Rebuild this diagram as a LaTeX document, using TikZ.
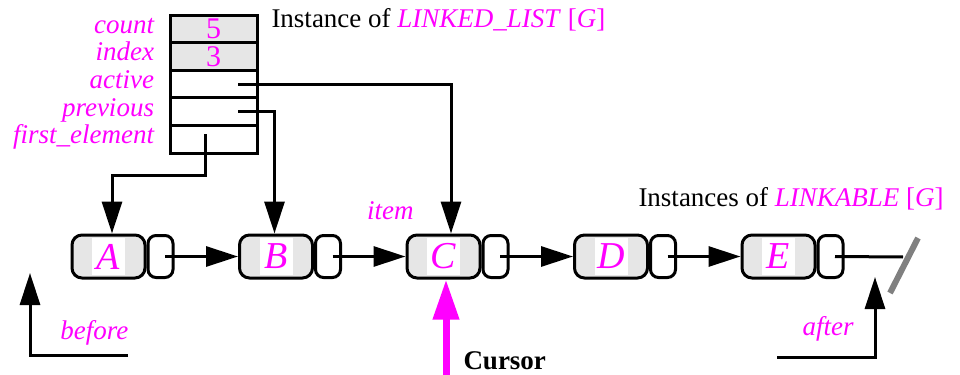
\documentclass[tikz,border=0pt]{standalone}
\usepackage{fontspec}
\setmainfont{Liberation Serif}
\newfontfamily\timesfont{Liberation Serif}
\usetikzlibrary{arrows.meta, calc}
\definecolor{fucsia}{HTML}{FF00FF}
\definecolor{grisclaro}{HTML}{E6E6E6}
\definecolor{gris}{HTML}{808080}

\begin{document}
\begin{tikzpicture}[
  x=0.5pt, y=-0.5pt,
  font=\timesfont\fontsize{13.5}{16}\selectfont,
  line width=1.5pt,
  field/.style={rectangle, draw, minimum width=43.5pt, minimum height=13.8pt,
                inner sep=0pt, text=fucsia, font=\timesfont\fontsize{15}{16}\selectfont},
  fieldgray/.style={field, fill=grisclaro},
  lbl/.style={text=fucsia, font=\timesfont\fontsize{13.5}{16}\selectfont\itshape, inner sep=0pt},
  cellbody/.style={rectangle, rounded corners=5pt, draw, fill=grisclaro,
                   minimum width=36.5pt, minimum height=21.5pt, inner sep=0pt},
  cellhook/.style={rectangle, rounded corners=4pt, draw, fill=white,
                   minimum width=12.5pt, minimum height=21pt, inner sep=0pt},
  letterbox/.style={fill=white, minimum width=16.5pt, minimum height=18.5pt, inner sep=0pt,
                    text=fucsia, font=\timesfont\fontsize{19}{20}\selectfont\itshape},
  arr/.style={-{Triangle[length=16pt, width=10pt]}, line width=1.5pt},
  cursorarr/.style={-{Triangle[length=20pt, width=12.5pt]}, line width=3.5pt, draw=fucsia},
  slash/.style={gris, line width=3pt},
]
\useasboundingbox (0,0) rectangle (960,375);

% --- Instancia de LINKED_LIST ---
\foreach \name/\k/\val/\sty in {count/0/5/fieldgray, index/1/3/fieldgray,
    active/2//field, previous/3//field, first/4//field}
  \node[\sty] (\name) at (213.5, 28.8+27.6*\k) {\val};

\foreach \name/\txt in {count/count, index/index, active/active,
    previous/previous, first/first\_element}
  \node[lbl, anchor=base east] at ([xshift=-6.5pt, yshift=-2.2pt]\name.west) {\txt};

\node[anchor=base west, inner sep=0pt] (listtitle) at (270,27)
  {Instance of \textcolor{fucsia}{\textit{LINKED\_LIST} [\textit{G}]}};

% --- Celdas LINKABLE ---
\foreach \name/\i in {A/0, B/1, C/2, D/3, E/4} {
  \node[cellbody] (\name) at (108.5+167.5*\i, 256.5) {};
  \node[cellhook, anchor=west] (h\name) at (\name.east) {};
  \node[letterbox] at (\name.center) {\name};
}

\node[anchor=base west, inner sep=0pt] (celltitle) at (637,206)
  {Instances of \textcolor{fucsia}{\textit{LINKABLE} [\textit{G}]}};
\node[lbl, anchor=base east] (item) at (415,219) {item};

% --- Enlaces right ---
\foreach \a/\b in {A/B, B/C, C/D, D/E}
  \draw[arr] ([xshift=2.25pt]h\a.center) -- (\b.west);
\coordinate (nil) at (903,257);
\draw ([xshift=2.25pt]hE.center) -- (nil);
\draw[slash] (890,293) -- (918,238);

% --- Punteros del registro ---
\coordinate (actp) at ([xshift=12.25pt]active.center);
\coordinate (prevp) at ([xshift=12.25pt]previous.center);
\coordinate (firstp) at ([xshift=-4.25pt, yshift=2.5pt]first.center);
\draw[arr] (actp) -| ([xshift=3.75pt]C.north);
\draw[arr] (prevp) -| ([xshift=-0.75pt]B.north);
\draw[arr] (firstp) -- ++(0,41) -| ([xshift=1.75pt]A.north);

% --- before / after ---
\coordinate (befstart) at (128,355);
\coordinate (befend) at (30,273);
\draw[arr] (befstart) -| (befend);
\node[lbl, anchor=base west] (before) at (59,339) {before};

\coordinate (aftstart) at (777,357);
\coordinate (aftend) at (875,277);
\draw[arr] (aftstart) -| (aftend);
\node[lbl, anchor=base west] (after) at (801,335) {after};

% --- Cursor ---
\coordinate (curs) at (446,375);
\draw[cursorarr] (curs) -- (curs |- C.south);
\node[anchor=base west, inner sep=0pt] (cursor) at (462,369) {\textbf{Cursor}};

\end{tikzpicture}
\end{document}
